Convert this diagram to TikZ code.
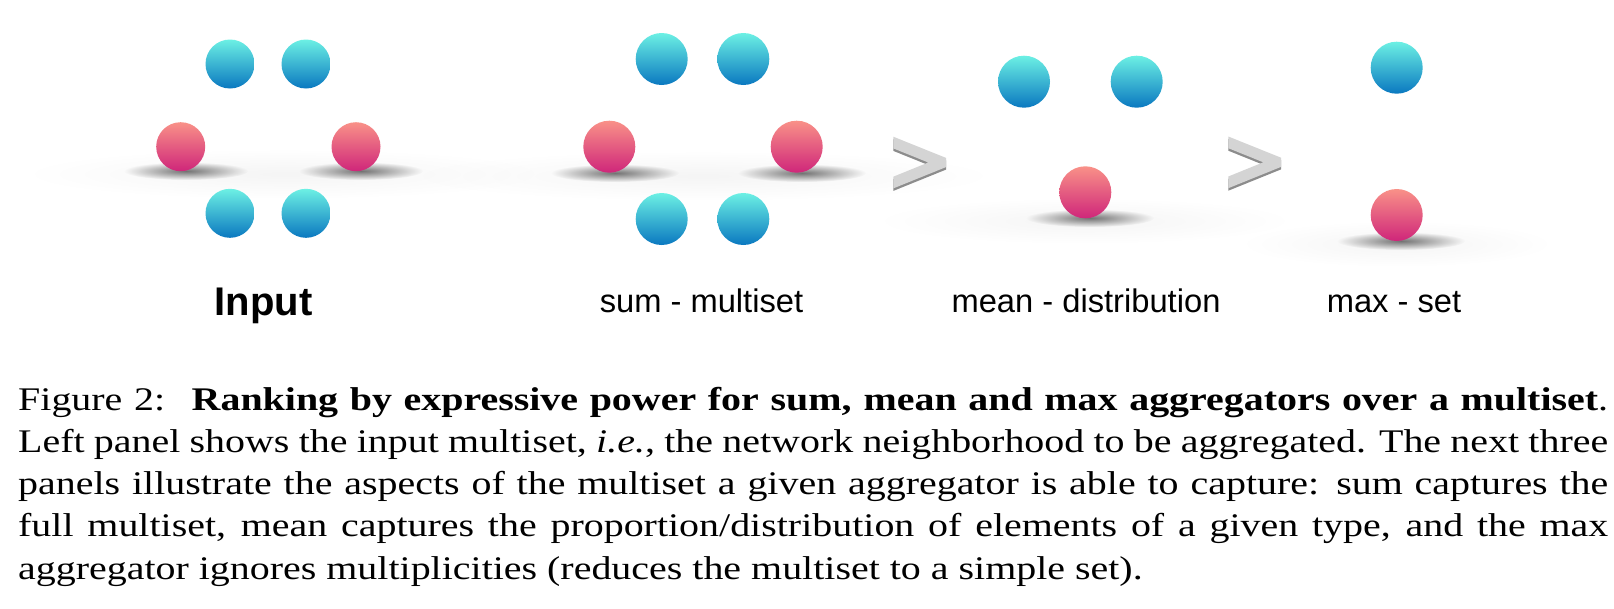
\documentclass[tikz,border=0pt]{standalone}
\usepackage{fontspec}
\setmainfont{Liberation Serif}
\newfontfamily\capfont[FakeStretch=1.21]{Liberation Serif}
\newfontfamily\labfont{Liberation Sans}
\usetikzlibrary{fadings}
\definecolor{bTop}{HTML}{6CF0E4}
\definecolor{bBot}{HTML}{0A78C0}
\definecolor{rTop}{HTML}{F99188}
\definecolor{rBot}{HTML}{CF267A}
\definecolor{signFill}{HTML}{D4D4D4}
\definecolor{signDark}{HTML}{8C8C8C}
\tikzfading[name=softfade, inner color=transparent!0, outer color=transparent!100]
\tikzset{
  ball/.style={circle, inner sep=0pt, draw=none, minimum size=52pt},
  blueball/.style={ball, top color=bTop, bottom color=bBot},
  redball/.style={ball, top color=rTop, bottom color=rBot},
  smallball/.style={minimum size=49pt},
  lbl/.style={font=\labfont\fontsize{32.7}{36}\selectfont, anchor=base, inner sep=0pt},
  biglbl/.style={font=\labfont\bfseries\fontsize{40}{44}\selectfont, anchor=base, inner sep=0pt},
  capline/.style={anchor=base west, inner sep=0pt, font=\capfont\fontsize{33}{43}\selectfont},
  floor/.style={fill=black!4, path fading=softfade},
  shadowblob/.style={fill=black!55, path fading=softfade},
  gtsign/.pic={
    \fill[signDark] (0,2.5) -- (52.7,23.7) -- (52.7,32.9) -- (0,54.2) -- (0,42.5) -- (35,28.3) -- (0,14.2) -- cycle;
    \fill[signFill] (0,0) -- (52.7,21.2) -- (52.7,30.4) -- (0,51.7) -- (0,40) -- (35,25.8) -- (0,11.7) -- cycle;
  }
}
\begin{document}
\begin{tikzpicture}[x=1pt,y=-1pt]
\useasboundingbox (0,0) rectangle (1614,608);
\fill[white] (0,0) rectangle (1614,608);

% floors
\fill[floor] (285,174) ellipse (250 and 24);
\fill[floor] (703,176) ellipse (280 and 24);
\fill[floor] (1085,221) ellipse (200 and 22);
\fill[floor] (1397,244) ellipse (150 and 22);

% shadows
\fill[shadowblob] (186,171) ellipse (62 and 9);
\fill[shadowblob] (361,171) ellipse (62 and 9);
\fill[shadowblob] (615,173) ellipse (64 and 9);
\fill[shadowblob] (802,173) ellipse (64 and 9);
\fill[shadowblob] (1090,218) ellipse (64 and 9);
\fill[shadowblob] (1401,241) ellipse (64 and 9);

% input panel
\node[blueball, smallball] (in1) at (230,64) {};
\node[blueball, smallball] (in2) at (306,64) {};
\node[redball, smallball]  (in3) at (180.7,146.7) {};
\node[redball, smallball]  (in4) at (356,146.7) {};
\node[blueball, smallball] (in5) at (230,213.3) {};
\node[blueball, smallball] (in6) at (306,213.3) {};

% sum panel
\node[blueball] (su1) at (661.7,59) {};
\node[blueball] (su2) at (743.3,59) {};
\node[redball]  (su3) at (609.3,146.7) {};
\node[redball]  (su4) at (796.7,146.7) {};
\node[blueball] (su5) at (661.7,219) {};
\node[blueball] (su6) at (743.3,219) {};

% mean panel
\node[blueball] (me1) at (1024,81.7) {};
\node[blueball] (me2) at (1136.7,81.7) {};
\node[redball]  (me3) at (1085.3,192.3) {};

% max panel
\node[blueball] (ma1) at (1396.7,67.7) {};
\node[redball]  (ma2) at (1396.7,215) {};

% greater-than signs
\pic at (893.3,136.7) {gtsign};
\pic at (1228.3,136.5) {gtsign};

% labels
\node[biglbl] (l1) at (263.5,315) {Input};
\node[lbl] (l2) at (701.5,312) {sum - multiset};
\node[lbl] (l3) at (1086,312) {mean - distribution};
\node[lbl] (l4) at (1394,312) {max - set};

% caption
\node[capline] (c1) at (18,410) {\makebox[1590pt][s]{Figure 2:\hspace{0.3em} \textbf{Ranking by expressive power for sum, mean and max aggregators over a multiset}.}};
\node[capline] (c2) at (18,452.3) {\makebox[1590pt][s]{Left panel shows the input multiset, \textit{i.e.}, the network neighborhood to be aggregated. The next three}};
\node[capline] (c3) at (18,494.6) {\makebox[1590pt][s]{panels illustrate the aspects of the multiset a given aggregator is able to capture: sum captures the}};
\node[capline] (c4) at (18,536.9) {\makebox[1590pt][s]{full multiset, mean captures the proportion/distribution of elements of a given type, and the max}};
\node[capline] (c5) at (18,579.2) {aggregator ignores multiplicities (reduces the multiset to a simple set).};
\end{tikzpicture}
\end{document}
